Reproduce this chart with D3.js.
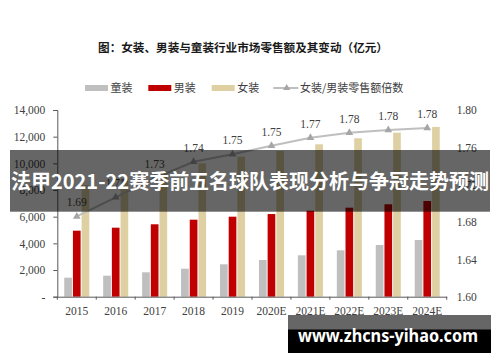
<!DOCTYPE html>
<html><head><meta charset="utf-8">
<script src="https://cdn.jsdelivr.net/npm/d3@7"></script>
<style>html,body{margin:0;padding:0;background:#fff;}svg{display:block;}</style>
</head><body>
<svg id="chart" width="500" height="362"></svg>
<script>
const categories = ["2015","2016","2017","2018","2019","2020E","2021E","2022E","2023E","2024E"];
const kidsWear  = [1425,1575,1830,2100,2430,2752,3104,3479,3876,4252];
const menWear   = [4950,5175,5430,5775,6000,6200,6450,6675,6930,7175];
const womenWear = [8375,8850,9420,10000,10500,10925,11430,11880,12300,12730];
const ratio     = [1.686,1.7065,1.727,1.7446,1.7525,1.7618,1.7703,1.7757,1.7786,1.7807];
const ratioLabels = ["1.69","1.71","1.73","1.74","1.75","1.75","1.77","1.78","1.78","1.78"];
const leftTicks = [0,2000,4000,6000,8000,10000,12000,14000];
const rightTicks = [1.60,1.64,1.68,1.72,1.76,1.80];
const seriesNames = ["童装","男装","女装"];
const lineName = "女装/男装零售额倍数";
const title = "图：女装、男装与童装行业市场零售额及其变动（亿元）";
const bannerText = "法甲2021-22赛季前五名球队表现分析与争冠走势预测";
const watermark = "www.zhcns-yihao.com";
const colors = ["#bfbfbf","#c00000","#dfd0a4"];

const svg = d3.select("#chart");
const serif = "'Liberation Serif','Times New Roman',serif";
const cjk = "'Noto Sans CJK SC','Noto Sans',sans-serif";
const mLeft = 57.3, mRight = 446.7, mTop = 110, mBottom = 296.7;

const x = d3.scaleBand().domain(categories).range([mLeft, mRight]).padding(0);
const inner = d3.scaleBand().domain(seriesNames).range([0, x.bandwidth()]).paddingInner(0.115).paddingOuter(0.8);
const y = d3.scaleLinear().domain([0,14000]).range([mBottom, mTop]);
const y2 = d3.scaleLinear().domain([1.60,1.80]).range([mBottom, mTop]);

// title
svg.append("text").attr("x",243).attr("y",52).attr("text-anchor","middle")
  .attr("font-family",cjk).attr("font-weight","bold").attr("font-size",11.6).attr("fill","#1a1a1a").text(title);

// legend
const lg = svg.append("g").attr("font-family",cjk).attr("font-size",11).attr("fill","#404040");
const legendX = [85,148.3,211.7];
seriesNames.forEach((n,i)=>{
  lg.append("rect").attr("x",legendX[i]).attr("y",85).attr("width",23).attr("height",6).attr("fill",colors[i]);
  lg.append("text").attr("x",legendX[i]+25.5).attr("y",92).text(n);
});
lg.append("line").attr("x1",273.3).attr("x2",298.3).attr("y1",88).attr("y2",88).attr("stroke","#bfbfbf").attr("stroke-width",2);
lg.append("path").attr("d",d3.symbol(d3.symbolTriangle,22)()).attr("transform","translate(286.7,88)").attr("fill","#a6a6a6");
lg.append("text").attr("x",300).attr("y",92).text(lineName);

// bars
const series = [kidsWear, menWear, womenWear];
series.forEach((vals,si)=>{
  svg.append("g").selectAll("rect").data(vals).join("rect")
    .attr("x",(d,i)=>x(categories[i])+inner(seriesNames[si]))
    .attr("y",d=>y(d)).attr("width",inner.bandwidth()).attr("height",d=>mBottom-y(d))
    .attr("fill",colors[si]);
});

// left axis
const ya = svg.append("g").attr("transform",`translate(${mLeft},0)`)
  .call(d3.axisLeft(y).tickValues(leftTicks).tickSize(4).tickPadding(8)
    .tickFormat(d=>d===0?"-":d3.format(",")(d)));
ya.select(".domain").attr("stroke","#595959");
ya.selectAll(".tick line").attr("stroke","#595959");
ya.selectAll("text").attr("font-family",serif).attr("font-size",11.5).attr("fill","#404040");

// right axis (labels only)
const ya2 = svg.append("g").attr("transform",`translate(${mRight},0)`)
  .call(d3.axisRight(y2).tickValues(rightTicks).tickSize(0).tickPadding(10).tickFormat(d3.format(".2f")));
ya2.select(".domain").remove();
ya2.selectAll("text").attr("font-family",serif).attr("font-size",11.5).attr("fill","#404040");

// x axis
const xa = svg.append("g").attr("transform",`translate(0,${mBottom})`)
  .call(d3.axisBottom(x).tickSize(0).tickPadding(10));
xa.select(".domain").attr("stroke","#595959");
xa.selectAll("text").attr("font-family",serif).attr("font-size",11.5).attr("fill","#404040");
svg.append("g").selectAll("line").data(categories.concat(["end"])).join("line")
  .attr("x1",(d,i)=>mLeft+i*x.step()).attr("x2",(d,i)=>mLeft+i*x.step())
  .attr("y1",mBottom).attr("y2",mBottom+3).attr("stroke","#595959");

// ratio line
const cx = (d,i)=>x(categories[i])+x.bandwidth()/2;
svg.append("path").datum(ratio).attr("fill","none").attr("stroke","#bfbfbf").attr("stroke-width",2)
  .attr("d",d3.line().x(cx).y(d=>y2(d)));
svg.append("g").selectAll("path").data(ratio).join("path")
  .attr("d",d3.symbol(d3.symbolTriangle,26)())
  .attr("transform",(d,i)=>`translate(${cx(d,i)},${y2(d)})`).attr("fill","#a6a6a6");
svg.append("g").selectAll("text").data(ratio).join("text")
  .attr("x",cx).attr("y",d=>y2(d)-10).attr("text-anchor","middle")
  .attr("font-family",serif).attr("font-size",11.5).attr("fill","#404040")
  .text((d,i)=>ratioLabels[i]);

// banner overlay
svg.append("rect").attr("x",10).attr("y",150).attr("width",480).attr("height",61.7).attr("fill","rgba(0,0,0,0.6)");
svg.append("text").attr("x",250).attr("y",189).attr("text-anchor","middle")
  .attr("font-family",cjk).attr("font-weight","bold").attr("font-size",20).attr("fill","#fff")
  .attr("textLength",478).attr("lengthAdjust","spacingAndGlyphs").text(bannerText);

// watermark
svg.append("rect").attr("x",288).attr("y",315).attr("width",203).attr("height",38).attr("fill","#000");
svg.append("rect").attr("x",288).attr("y",315).attr("width",203).attr("height",14.5).attr("fill","#666");
svg.append("text").attr("x",388).attr("y",342).attr("text-anchor","middle")
  .attr("font-family","'Noto Sans','Open Sans',sans-serif").attr("font-weight","bold").attr("font-size",17).attr("fill","#fff")
  .attr("textLength",180).attr("lengthAdjust","spacingAndGlyphs").text(watermark);
</script>
</body></html>
